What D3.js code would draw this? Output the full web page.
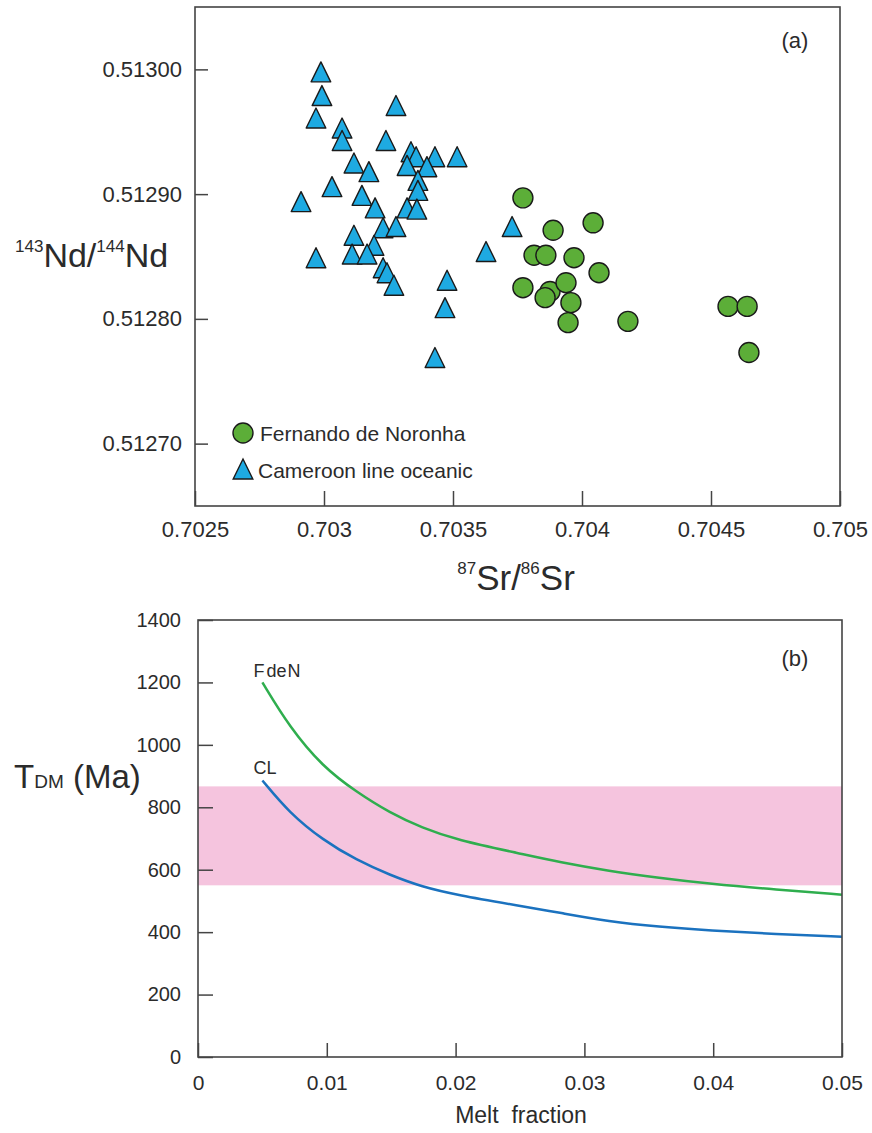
<!DOCTYPE html>
<html>
<head>
<meta charset="utf-8">
<script src="https://cdn.jsdelivr.net/npm/d3@7"></script>
<style>
  body { margin: 0; background: #fff; }
  svg { display: block; font-family: 'Liberation Sans', Arial, sans-serif; }
</style>
</head>
<body>
<div id="chart"></div>
<script>
// panel (a) axis ticks
var srTicks = [0.7025, 0.703, 0.7035, 0.704, 0.7045, 0.705]
var srTickLabels = ['0.7025', '0.703', '0.7035', '0.704', '0.7045', '0.705']
var ndTicks = [0.5127, 0.5128, 0.5129, 0.5130]
var ndTickLabels = ['0.51270', '0.51280', '0.51290', '0.51300']

// Cameroon line oceanic (triangles)
var camSr = [0.702988, 0.702992, 0.702969, 0.703070, 0.703070, 0.703279, 0.703240, 0.703116, 0.703174, 0.703031,
             0.702911, 0.703147, 0.703198, 0.703337, 0.703357, 0.703430, 0.703516, 0.703322, 0.703399, 0.703364,
             0.703364, 0.703322, 0.703360, 0.703229, 0.703279, 0.703116, 0.703194, 0.703109, 0.703167, 0.702969,
             0.703229, 0.703244, 0.703271, 0.703628, 0.703477, 0.703469, 0.703430, 0.703729]
var camNd = [0.512998, 0.512979, 0.512961, 0.512953, 0.512943, 0.512971, 0.512943, 0.512925, 0.512918, 0.512906,
             0.512894, 0.512899, 0.512889, 0.512934, 0.512930, 0.512930, 0.512930, 0.512923, 0.512922, 0.512911,
             0.512903, 0.512889, 0.512888, 0.512873, 0.512874, 0.512867, 0.512859, 0.512852, 0.512852, 0.512849,
             0.512841, 0.512837, 0.512827, 0.512854, 0.512831, 0.512809, 0.512769, 0.512874]

// Fernando de Noronha (circles)
var fdnSr = [0.703771, 0.703888, 0.704043, 0.703814, 0.703860, 0.703969, 0.704066, 0.703771, 0.703876,
             0.703938, 0.703857, 0.703957, 0.703946, 0.704178, 0.704566, 0.704640, 0.704647]
var fdnNd = [0.512897, 0.512871, 0.512877, 0.512851, 0.512851, 0.512849, 0.512837, 0.512825, 0.512822,
             0.512829, 0.512817, 0.512813, 0.512797, 0.512798, 0.512810, 0.512810, 0.512773]

// panel (b)
var meltTicks = [0, 0.01, 0.02, 0.03, 0.04, 0.05]
var meltTickLabels = ['0', '0.01', '0.02', '0.03', '0.04', '0.05']
var ageTicks = [0, 200, 400, 600, 800, 1000, 1200, 1400]
var ageTickLabels = ['0', '200', '400', '600', '800', '1000', '1200', '1400']

var meltFraction = [0.005, 0.0071, 0.0097, 0.0123, 0.0149, 0.0174, 0.0201, 0.025, 0.0281, 0.0319, 0.0358, 0.0397, 0.0449, 0.05]
var fdenAge = [1200, 1057, 929, 849, 782, 734, 695, 652, 624, 596, 574, 555, 536, 520]
var clAge = [886, 782, 695, 631, 583, 545, 519, 484, 462, 434, 417, 405, 394, 385]

var bandAge = [550, 867]

var colors = {
    text: '#2b2b2b',
    axis: '#444',
    tri: '#1eaae2',
    circ: '#5cae38',
    markStroke: '#1a1a1a',
    fden: '#2fae4e',
    cl: '#1b72bf',
    band: '#f5c4de'
}

var W = 872, H = 1133

var svg = d3.select('#chart').append('svg')
    .attr('width', W)
    .attr('height', H)
    .attr('viewBox', '0 0 ' + W + ' ' + H)

svg.append('rect').attr('width', W).attr('height', H).attr('fill', '#fff')

function styleAxis(g, size) {
    g.attr('font-family', null).attr('font-size', null)
    g.select('.domain').remove()
    g.selectAll('.tick line').attr('stroke', colors.axis).attr('stroke-width', 1.5)
    g.selectAll('.tick text').attr('fill', colors.text).style('font-size', size + 'px')
}

// ---------- panel (a) ----------
var pa = {left: 195, right: 840, top: 7, bottom: 506}

var xA = d3.scaleLinear().domain([0.7025, 0.705]).range([pa.left, pa.right])
var yA = d3.scaleLinear().domain([0.51265, 0.51305]).range([pa.bottom, pa.top])

var gA = svg.append('g')

gA.append('g')
    .attr('transform', 'translate(0,' + pa.bottom + ')')
    .call(d3.axisBottom(xA).tickValues(srTicks).tickFormat(function(d, i) { return srTickLabels[i] })
        .tickSize(-15).tickPadding(15))
    .call(styleAxis, 22)

gA.append('g')
    .attr('transform', 'translate(' + pa.left + ',0)')
    .call(d3.axisLeft(yA).tickValues(ndTicks).tickFormat(function(d, i) { return ndTickLabels[i] })
        .tickSize(-13).tickPadding(13))
    .call(styleAxis, 22)

var triPath = 'M0,-10L9.8,10L-9.8,10Z'

gA.selectAll('path.cam')
    .data(camSr.map(function(d, i) { return [d, camNd[i]] }))
    .enter().append('path')
    .attr('class', 'cam')
    .attr('d', triPath)
    .attr('transform', function(d) { return 'translate(' + xA(d[0]) + ',' + yA(d[1]) + ')' })
    .attr('fill', colors.tri)
    .attr('stroke', colors.markStroke)
    .attr('stroke-width', 1.4)
    .attr('stroke-linejoin', 'round')

gA.selectAll('circle.fdn')
    .data(fdnSr.map(function(d, i) { return [d, fdnNd[i]] }))
    .enter().append('circle')
    .attr('class', 'fdn')
    .attr('cx', function(d) { return xA(d[0]) })
    .attr('cy', function(d) { return yA(d[1]) })
    .attr('r', 10)
    .attr('fill', colors.circ)
    .attr('stroke', colors.markStroke)
    .attr('stroke-width', 1.4)

gA.append('rect')
    .attr('x', pa.left).attr('y', pa.top)
    .attr('width', pa.right - pa.left).attr('height', pa.bottom - pa.top)
    .attr('fill', 'none').attr('stroke', colors.axis).attr('stroke-width', 1.6)

// legend
gA.append('circle').attr('cx', 243).attr('cy', 433).attr('r', 10)
    .attr('fill', colors.circ).attr('stroke', colors.markStroke).attr('stroke-width', 1.4)
gA.append('text').attr('x', 260).attr('y', 441).attr('font-size', 21).attr('fill', colors.text)
    .text('Fernando de Noronha')
gA.append('path').attr('d', triPath).attr('transform', 'translate(243,469)')
    .attr('fill', colors.tri).attr('stroke', colors.markStroke).attr('stroke-width', 1.4)
gA.append('text').attr('x', 258).attr('y', 478).attr('font-size', 21).attr('fill', colors.text)
    .text('Cameroon line oceanic')

gA.append('text').attr('x', 795).attr('y', 48).attr('text-anchor', 'middle')
    .attr('font-size', 22).attr('fill', colors.text).text('(a)')

// axis titles (a)
var yTitle = gA.append('text').attr('x', 15).attr('y', 267).attr('fill', colors.text).attr('font-size', 34)
yTitle.append('tspan').attr('font-size', 17).attr('dy', -15).text('143')
yTitle.append('tspan').attr('dy', 15).text('Nd/')
yTitle.append('tspan').attr('font-size', 17).attr('dy', -15).text('144')
yTitle.append('tspan').attr('dy', 15).text('Nd')

var xTitle = gA.append('text').attr('x', 516).attr('y', 590).attr('text-anchor', 'middle')
    .attr('fill', colors.text).attr('font-size', 35)
xTitle.append('tspan').attr('font-size', 17).attr('dy', -16).text('87')
xTitle.append('tspan').attr('dy', 16).text('Sr/')
xTitle.append('tspan').attr('font-size', 17).attr('dy', -16).text('86')
xTitle.append('tspan').attr('dy', 16).text('Sr')

// ---------- panel (b) ----------
var pb = {left: 198, right: 842, top: 620, bottom: 1057}

var xB = d3.scaleLinear().domain([0, 0.05]).range([pb.left, pb.right])
var yB = d3.scaleLinear().domain([0, 1400]).range([pb.bottom, pb.top])

var gB = svg.append('g')

gB.append('rect')
    .attr('x', pb.left).attr('width', pb.right - pb.left)
    .attr('y', yB(bandAge[1])).attr('height', yB(bandAge[0]) - yB(bandAge[1]))
    .attr('fill', colors.band)

gB.append('g')
    .attr('transform', 'translate(0,' + pb.bottom + ')')
    .call(d3.axisBottom(xB).tickValues(meltTicks).tickFormat(function(d, i) { return meltTickLabels[i] })
        .tickSize(-14).tickPadding(18))
    .call(styleAxis, 21)

gB.append('g')
    .attr('transform', 'translate(' + pb.left + ',0)')
    .call(d3.axisLeft(yB).tickValues(ageTicks).tickFormat(function(d, i) { return ageTickLabels[i] })
        .tickSize(-15).tickPadding(17))
    .call(styleAxis, 20)

// smooth through the read-off points
var line = d3.line()
    .x(function(d) { return xB(d[0]) })
    .y(function(d) { return yB(d[1]) })
    .curve(d3.curveBasis)

gB.append('path')
    .datum(meltFraction.map(function(d, i) { return [d, fdenAge[i]] }))
    .attr('d', line)
    .attr('fill', 'none').attr('stroke', colors.fden).attr('stroke-width', 2.5)

gB.append('path')
    .datum(meltFraction.map(function(d, i) { return [d, clAge[i]] }))
    .attr('d', line)
    .attr('fill', 'none').attr('stroke', colors.cl).attr('stroke-width', 2.5)

gB.append('rect')
    .attr('x', pb.left).attr('y', pb.top)
    .attr('width', pb.right - pb.left).attr('height', pb.bottom - pb.top)
    .attr('fill', 'none').attr('stroke', colors.axis).attr('stroke-width', 1.6)

// curve labels
var fLab = gB.append('text').attr('x', xB(meltFraction[0]) - 9).attr('y', 677)
    .attr('font-size', 18).attr('fill', colors.text)
fLab.append('tspan').text('F')
fLab.append('tspan').attr('dx', 2).text('de')
fLab.append('tspan').attr('dx', 1).text('N')

gB.append('text').attr('x', xB(meltFraction[0]) - 9).attr('y', 774)
    .attr('font-size', 18).attr('fill', colors.text).text('CL')

gB.append('text').attr('x', 795).attr('y', 666).attr('text-anchor', 'middle')
    .attr('font-size', 22).attr('fill', colors.text).text('(b)')

var tTitle = gB.append('text').attr('x', 14).attr('y', 788).attr('fill', colors.text).attr('font-size', 33)
tTitle.append('tspan').text('T')
tTitle.append('tspan').attr('font-size', 19).text('DM')
tTitle.append('tspan').text(' (Ma)')

gB.append('text').attr('x', 521).attr('y', 1123).attr('text-anchor', 'middle')
    .attr('font-size', 23).attr('fill', colors.text)
    .attr('xml:space', 'preserve').style('white-space', 'pre')
    .text('Melt  fraction')
</script>
</body>
</html>
